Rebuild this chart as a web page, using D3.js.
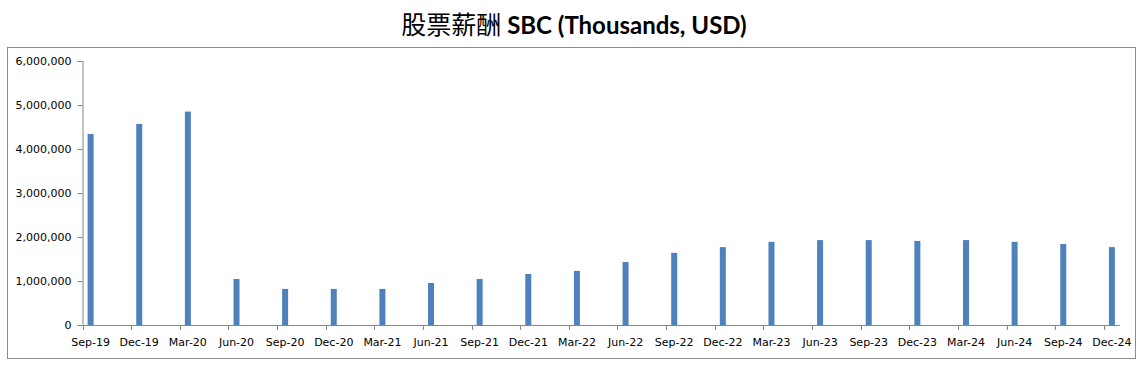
<!DOCTYPE html>
<html>
<head>
<meta charset="utf-8">
<script src="https://cdn.jsdelivr.net/npm/d3@7"></script>
<style>
  html, body { margin: 0; padding: 0; background: #fff; }
  svg { display: block; }
</style>
</head>
<body>
<svg id="chart" width="1141" height="367"></svg>
<script>
const categories = ["Sep-19","Dec-19","Mar-20","Jun-20","Sep-20","Dec-20","Mar-21","Jun-21","Sep-21","Dec-21","Mar-22","Jun-22","Sep-22","Dec-22","Mar-23","Jun-23","Sep-23","Dec-23","Mar-24","Jun-24","Sep-24","Dec-24"];
const sbcValues = [4340000,4570000,4850000,1045000,820000,820000,820000,955000,1045000,1160000,1230000,1430000,1640000,1770000,1890000,1930000,1930000,1910000,1930000,1890000,1840000,1770000];
const yTicks = [0,1000000,2000000,3000000,4000000,5000000,6000000];
const titleCJK = "股票薪酬";
const titleLatin = " SBC (Thousands, USD)";

const svg = d3.select("#chart");
const W = 1141, H = 367;

// outer border
svg.append("rect").attr("x", 7.5).attr("y", 47.5).attr("width", 1128).attr("height", 311)
  .attr("fill", "#fff").attr("stroke", "#8c8c8c").attr("stroke-width", 1);

// title
const title = svg.append("text").attr("x", 574).attr("y", 34).attr("text-anchor", "middle").attr("fill", "#000");
title.append("tspan").attr("font-family", "'Noto Sans CJK SC', sans-serif").attr("font-size", 25).text(titleCJK);
title.append("tspan").attr("font-family", "Lato, 'Open Sans', sans-serif").attr("font-weight", "bold").attr("font-size", 24).text(titleLatin);

// scales: month-based date axis (each quarter = 3 months, 64 months total)
const months = categories.length * 3 - 2; // Sep-19 .. Dec-24 inclusive = 64 months
const x = d3.scaleLinear().domain([0, months]).range([82.5, 1120]);
const y = d3.scaleLinear().domain([0, 6000000]).range([325, 61]);

const barW = 6;

// bars
svg.append("g").selectAll("rect").data(sbcValues).join("rect")
  .attr("x", (d, i) => x(i * 3 + 0.5) - barW / 2)
  .attr("y", d => y(d))
  .attr("width", barW)
  .attr("height", d => y(0) - y(d))
  .attr("fill", "#4F81BD");

// y axis
const yAxis = d3.axisLeft(y).tickValues(yTicks).tickSize(5).tickPadding(6)
  .tickFormat(d3.format(","));
const gy = svg.append("g").attr("transform", "translate(82.5,0)").call(yAxis);
gy.select(".domain").attr("stroke", "#868686");
gy.selectAll(".tick line").attr("stroke", "#868686");
gy.selectAll(".tick text").attr("font-family", "'DejaVu Sans', sans-serif").attr("font-size", 11).attr("fill", "#000");

// x axis line + ticks
const gx = svg.append("g");
gx.append("line").attr("x1", x(0)).attr("x2", x(months)).attr("y1", 325.5).attr("y2", 325.5).attr("stroke", "#868686");
gx.selectAll("line.tk").data(categories).join("line").attr("class", "tk")
  .attr("x1", (d, i) => Math.round(x(i * 3)) + 0.5).attr("x2", (d, i) => Math.round(x(i * 3)) + 0.5)
  .attr("y1", 325).attr("y2", 330).attr("stroke", "#868686");
gx.selectAll("text").data(categories).join("text")
  .attr("x", (d, i) => x(i * 3 + 0.5))
  .attr("y", 346)
  .attr("text-anchor", "middle")
  .attr("font-family", "'DejaVu Sans', sans-serif").attr("font-size", 11).attr("fill", "#000")
  .text(d => d);
</script>
</body>
</html>
